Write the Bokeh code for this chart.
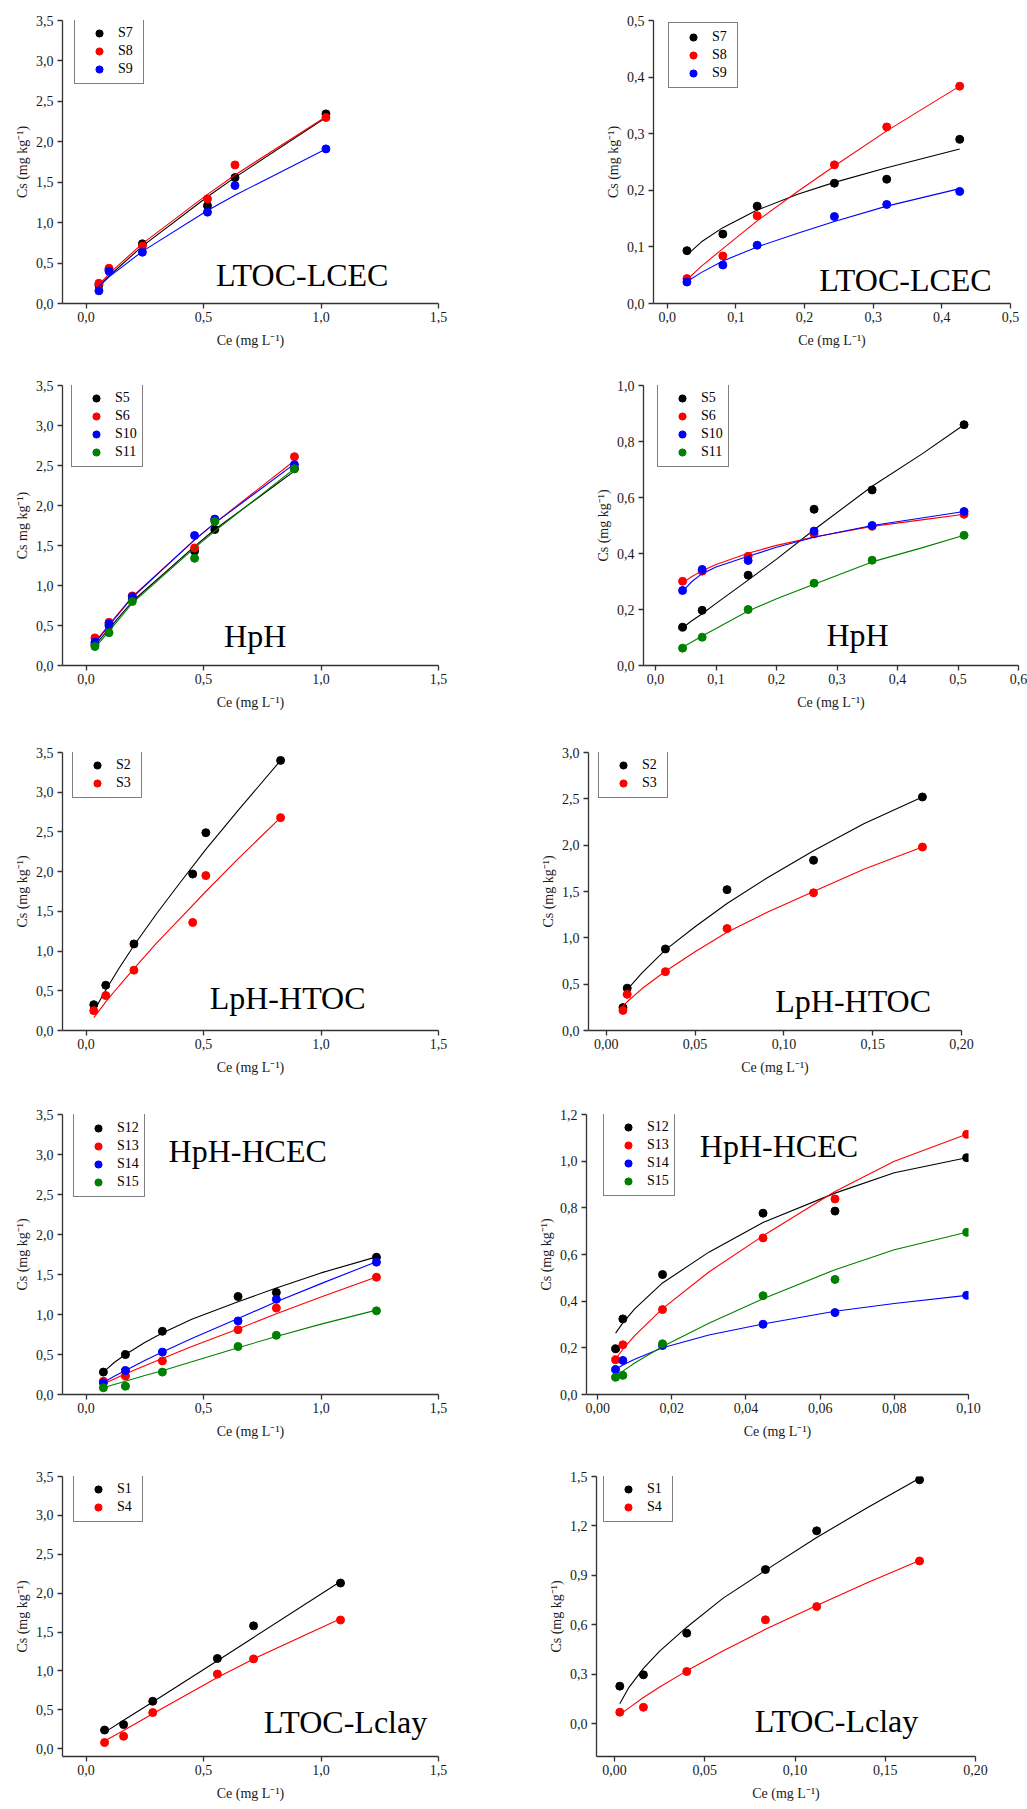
from bokeh.plotting import figure
from bokeh.layouts import column, row
from bokeh.models import Range1d, FixedTicker, Legend, LegendItem, Label
from bokeh.embed import file_html
from bokeh.resources import INLINE

# ---------------- DATA ----------------
# Row 1 left : LTOC-LCEC (Ce 0-1.5)
ce_A = [0.055, 0.098, 0.240, 0.517, 0.634, 1.021]
s7_A = [0.23, 0.42, 0.738, 1.21, 1.557, 2.345]
s8_A = [0.25, 0.436, 0.71, 1.294, 1.714, 2.30]
s9_A = [0.157, 0.40, 0.634, 1.13, 1.459, 1.912]
fit7_A = [0.22, 0.34, 0.71, 1.32, 1.56, 2.30]
fit8_A = [0.23, 0.37, 0.74, 1.35, 1.59, 2.31]
fit9_A = [0.21, 0.33, 0.645, 1.15, 1.34, 1.91]

# Row 1 right : LTOC-LCEC (Ce 0-0.5)
ce_B = [0.0287, 0.081, 0.131, 0.2435, 0.3197, 0.426]
s7_B = [0.0934, 0.1226, 0.172, 0.2125, 0.2196, 0.29]
s8_B = [0.044, 0.084, 0.155, 0.245, 0.312, 0.384]
s9_B = [0.038, 0.068, 0.103, 0.1536, 0.175, 0.198]
fitx_B = [0.0287, 0.05, 0.081, 0.131, 0.19, 0.2435, 0.3197, 0.426]
fit7_B = [0.086, 0.109, 0.134, 0.165, 0.193, 0.214, 0.240, 0.273]
fit8_B = [0.042, 0.066, 0.097, 0.146, 0.198, 0.243, 0.305, 0.384]
fit9_B = [0.039, 0.055, 0.075, 0.100, 0.124, 0.145, 0.172, 0.203]

# Row 2 left : HpH (Ce 0-1.5)
ce_C = [0.038, 0.098, 0.197, 0.462, 0.548, 0.887]
s5_C = [0.26, 0.50, 0.83, 1.43, 1.70, 2.46]
s6_C = [0.345, 0.54, 0.87, 1.47, 1.82, 2.61]
s10_C = [0.29, 0.52, 0.86, 1.625, 1.83, 2.51]
s11_C = [0.2375, 0.41, 0.80, 1.34, 1.80, 2.46]
fit5_C = [0.25, 0.46, 0.80, 1.49, 1.70, 2.43]
fit6_C = [0.29, 0.51, 0.86, 1.57, 1.78, 2.56]
fit10_C = [0.28, 0.50, 0.85, 1.57, 1.78, 2.52]
fit11_C = [0.22, 0.43, 0.78, 1.47, 1.68, 2.46]

# Row 2 right : HpH (Ce 0-0.6)
ce_D = [0.0446, 0.077, 0.153, 0.262, 0.358, 0.51]
s5_D = [0.137, 0.197, 0.3226, 0.558, 0.627, 0.86]
s6_D = [0.301, 0.337, 0.39, 0.47, 0.497, 0.54]
s10_D = [0.268, 0.343, 0.375, 0.48, 0.50, 0.55]
s11_D = [0.062, 0.101, 0.20, 0.294, 0.376, 0.465]
fitx_D = [0.0446, 0.06, 0.077, 0.10, 0.153, 0.20, 0.262, 0.358, 0.44, 0.51]
fit5_D = [0.135, 0.16, 0.185, 0.222, 0.305, 0.38, 0.485, 0.64, 0.755, 0.86]
fit6_D = [0.295, 0.318, 0.338, 0.361, 0.401, 0.429, 0.459, 0.497, 0.52, 0.54]
fit10_D = [0.265, 0.30, 0.328, 0.352, 0.39, 0.422, 0.458, 0.50, 0.527, 0.55]
fit11_D = [0.065, 0.084, 0.105, 0.132, 0.195, 0.238, 0.29, 0.37, 0.42, 0.465]

# Row 3 left : LpH-HTOC (Ce 0-1.5)
ce_E = [0.033, 0.084, 0.204, 0.454, 0.51, 0.828]
s2_E = [0.325, 0.57, 1.09, 1.97, 2.49, 3.40]
s3_E = [0.25, 0.44, 0.76, 1.36, 1.95, 2.68]
fitx_E = [0.033, 0.084, 0.14, 0.204, 0.30, 0.40, 0.51, 0.65, 0.828]
fit2_E = [0.24, 0.51, 0.78, 1.07, 1.47, 1.86, 2.28, 2.78, 3.40]
fit3_E = [0.16, 0.36, 0.56, 0.78, 1.10, 1.41, 1.75, 2.17, 2.68]

# Row 3 right : LpH-HTOC (Ce 0-0.2)
ce_F = [0.0094, 0.0118, 0.0333, 0.068, 0.1167, 0.178]
s2_F = [0.247, 0.457, 0.88, 1.52, 1.837, 2.52]
s3_F = [0.217, 0.39, 0.635, 1.10, 1.486, 1.98]
fitx_F = [0.0094, 0.0118, 0.02, 0.0333, 0.05, 0.068, 0.09, 0.1167, 0.145, 0.178]
fit2_F = [0.38, 0.44, 0.62, 0.87, 1.12, 1.37, 1.64, 1.94, 2.23, 2.52]
fit3_F = [0.265, 0.31, 0.45, 0.64, 0.85, 1.06, 1.27, 1.50, 1.74, 1.98]

# Row 4 left : HpH-HCEC (Ce 0-1.5)
ce_G = [0.074, 0.168, 0.325, 0.647, 0.81, 1.236]
s12_G = [0.28, 0.50, 0.79, 1.225, 1.275, 1.716]
s13_G = [0.166, 0.23, 0.42, 0.81, 1.08, 1.466]
s14_G = [0.146, 0.30, 0.53, 0.92, 1.19, 1.654]
s15_G = [0.084, 0.104, 0.28, 0.60, 0.74, 1.046]
fitx_G = [0.074, 0.12, 0.168, 0.25, 0.325, 0.45, 0.647, 0.81, 1.0, 1.236]
fit12_G = [0.28, 0.40, 0.50, 0.65, 0.77, 0.94, 1.16, 1.33, 1.52, 1.72]
fit13_G = [0.13, 0.195, 0.258, 0.36, 0.45, 0.60, 0.82, 1.01, 1.22, 1.47]
fit14_G = [0.15, 0.227, 0.30, 0.424, 0.531, 0.70, 0.95, 1.158, 1.386, 1.66]
fit15_G = [0.085, 0.125, 0.165, 0.237, 0.298, 0.41, 0.585, 0.725, 0.88, 1.055]

# Row 4 right : HpH-HCEC (Ce 0-0.1)
ce_H = [0.00485, 0.0068, 0.0175, 0.0446, 0.064, 0.0995]
s12_H = [0.196, 0.324, 0.514, 0.777, 0.786, 1.015]
s13_H = [0.149, 0.213, 0.364, 0.671, 0.838, 1.115]
s14_H = [0.107, 0.146, 0.21, 0.301, 0.351, 0.425]
s15_H = [0.074, 0.082, 0.2175, 0.4235, 0.493, 0.695]
fitx_H = [0.00485, 0.0068, 0.01, 0.0175, 0.03, 0.0446, 0.064, 0.08, 0.0995]
fit12_H = [0.263, 0.307, 0.367, 0.478, 0.61, 0.737, 0.863, 0.95, 1.015]
fit13_H = [0.152, 0.194, 0.252, 0.368, 0.525, 0.68, 0.87, 1.0, 1.115]
fit14_H = [0.108, 0.126, 0.151, 0.20, 0.255, 0.302, 0.357, 0.39, 0.425]
fit15_H = [0.08, 0.10, 0.135, 0.206, 0.305, 0.41, 0.535, 0.62, 0.695]

# Row 5 left : LTOC-Lclay (Ce 0-1.5)
ce_I = [0.079, 0.16, 0.284, 0.559, 0.713, 1.083]
s1_I = [0.24, 0.31, 0.61, 1.16, 1.58, 2.13]
s4_I = [0.08, 0.16, 0.465, 0.96, 1.155, 1.655]
fit1_I = [0.21, 0.365, 0.60, 1.13, 1.43, 2.15]
fit4_I = [0.10, 0.235, 0.45, 0.915, 1.155, 1.67]

# Row 5 right : LTOC-Lclay (Ce 0-0.2)
ce_J = [0.0029, 0.016, 0.040, 0.0836, 0.112, 0.169]
s1_J = [0.227, 0.296, 0.549, 0.935, 1.17, 1.48]
s4_J = [0.069, 0.099, 0.316, 0.63, 0.71, 0.987]
fitx_J = [0.0029, 0.008, 0.016, 0.025, 0.040, 0.06, 0.0836, 0.112, 0.14, 0.169]
fit1_J = [0.12, 0.22, 0.335, 0.44, 0.585, 0.76, 0.93, 1.13, 1.31, 1.49]
fit4_J = [0.055, 0.095, 0.158, 0.222, 0.32, 0.44, 0.572, 0.717, 0.855, 0.99]

# tick values and labels
ticks_x_wide = [0.0, 0.5, 1.0, 1.5]
labels_x_wide = ["0,0", "0,5", "1,0", "1,5"]
ticks_y_wide = [0.0, 0.5, 1.0, 1.5, 2.0, 2.5, 3.0, 3.5]
labels_y_wide = ["0,0", "0,5", "1,0", "1,5", "2,0", "2,5", "3,0", "3,5"]
ticks_B = [0.0, 0.1, 0.2, 0.3, 0.4, 0.5]
labels_B = ["0,0", "0,1", "0,2", "0,3", "0,4", "0,5"]
ticks_x_D = [0.0, 0.1, 0.2, 0.3, 0.4, 0.5, 0.6]
labels_x_D = ["0,0", "0,1", "0,2", "0,3", "0,4", "0,5", "0,6"]
ticks_y_D = [0.0, 0.2, 0.4, 0.6, 0.8, 1.0]
labels_y_D = ["0,0", "0,2", "0,4", "0,6", "0,8", "1,0"]
ticks_x_F = [0.0, 0.05, 0.10, 0.15, 0.20]
labels_x_F = ["0,00", "0,05", "0,10", "0,15", "0,20"]
ticks_y_F = [0.0, 0.5, 1.0, 1.5, 2.0, 2.5, 3.0]
labels_y_F = ["0,0", "0,5", "1,0", "1,5", "2,0", "2,5", "3,0"]
ticks_x_H = [0.0, 0.02, 0.04, 0.06, 0.08, 0.10]
labels_x_H = ["0,00", "0,02", "0,04", "0,06", "0,08", "0,10"]
ticks_y_H = [0.0, 0.2, 0.4, 0.6, 0.8, 1.0, 1.2]
labels_y_H = ["0,0", "0,2", "0,4", "0,6", "0,8", "1,0", "1,2"]
ticks_y_J = [0.0, 0.3, 0.6, 0.9, 1.2, 1.5]
labels_y_J = ["0,0", "0,3", "0,6", "0,9", "1,2", "1,5"]

BLACK, RED, BLUE, GREEN = "#000000", "#ff0000", "#0000ff", "#008000"
FONT = "Liberation Serif"
XLAB = "Ce (mg L\u207b\u00b9)"
YLAB = "Cs (mg kg\u207b\u00b9)"


def make_panel(width, height, mbl, mbr, mbt, mbb, xr, yr, xt, xl, yt, yl,
               ylabel, series, title, tx, ty, leg_dx, leg_dy):
    fh = height - mbt - mbb
    p = figure(width=width, height=height,
               x_range=Range1d(*xr), y_range=Range1d(*yr),
               output_backend="svg", toolbar_location=None,
               min_border_left=mbl, min_border_right=mbr,
               min_border_top=mbt, min_border_bottom=mbb)
    p.outline_line_color = None
    p.grid.visible = False
    p.background_fill_color = "white"
    p.border_fill_color = "white"
    for ax, ticks, labels in ((p.xaxis[0], xt, xl), (p.yaxis[0], yt, yl)):
        ax.ticker = FixedTicker(ticks=ticks)
        ax.major_label_overrides = dict(zip(ticks, labels))
        ax.minor_tick_line_color = None
        ax.major_tick_out = 5
        ax.major_tick_in = 0
        ax.axis_line_color = "#333333"
        ax.axis_line_width = 1.3
        ax.major_tick_line_color = "#333333"
        ax.major_tick_line_width = 1.3
        ax.major_label_text_font = FONT
        ax.major_label_text_font_size = "14px"
        ax.major_label_text_color = "#1a1a1a"
        ax.axis_label_text_font = FONT
        ax.axis_label_text_font_size = "14px"
        ax.axis_label_text_font_style = "normal"
        ax.axis_label_text_color = "#1a1a1a"
    p.xaxis[0].major_label_standoff = 3
    p.xaxis[0].axis_label_standoff = 8
    p.xaxis[0].axis_label = XLAB
    p.yaxis[0].major_label_standoff = 4
    p.yaxis[0].axis_label_standoff = 3
    p.yaxis[0].axis_label = ylabel

    items = []
    for name, color, ce, cs, fx, fy in series:
        p.line(fx, fy, line_color=color, line_width=1.1)
        r = p.scatter(ce, cs, marker="circle", size=8,
                      fill_color=color, line_color=color)
        items.append(LegendItem(label=name, renderers=[r]))
    n = len(items)
    lh = 10 + 18 * n
    leg = Legend(items=items, location=(leg_dx, fh - leg_dy - lh),
                 orientation="vertical", border_line_color="#000000",
                 border_line_width=1, background_fill_color="white",
                 background_fill_alpha=1.0, padding=5, spacing=0, margin=0,
                 glyph_width=38, glyph_height=18, label_height=18,
                 label_standoff=0, label_text_font=FONT,
                 label_text_font_size="14px", label_text_color="#000000")
    p.add_layout(leg)
    p.add_layout(Label(x=tx, y=ty, text=title, text_font=FONT,
                       text_font_size="32px", text_align="center",
                       text_baseline="alphabetic", text_color="#000000"))
    return p


LW = 488           # left figure width
RW = 539           # right figure width
row_h = [373, 367, 362, 362, 345]
row_t = [20, 12, 12, 12, 12]
row_b = [70, 75, 72, 70, 53]
LBL, LBR = 62, 50

pA = make_panel(LW, row_h[0], LBL, LBR, row_t[0], row_b[0], (-0.1, 1.5), (0.0, 3.5),
                ticks_x_wide, labels_x_wide, ticks_y_wide, labels_y_wide, YLAB,
                [("S7", BLACK, ce_A, s7_A, ce_A, fit7_A),
                 ("S8", RED, ce_A, s8_A, ce_A, fit8_A),
                 ("S9", BLUE, ce_A, s9_A, ce_A, fit9_A)],
                "LTOC-LCEC", 0.92, 0.35, 12, 0)
pB = make_panel(RW, row_h[0], 165, 17, row_t[0], row_b[0], (-0.02, 0.5), (0.0, 0.5),
                ticks_B, labels_B, ticks_B, labels_B, YLAB,
                [("S7", BLACK, ce_B, s7_B, fitx_B, fit7_B),
                 ("S8", RED, ce_B, s8_B, fitx_B, fit8_B),
                 ("S9", BLUE, ce_B, s9_B, fitx_B, fit9_B)],
                "LTOC-LCEC", 0.347, 0.041, 15, 4)
pC = make_panel(LW, row_h[1], LBL, LBR, row_t[1], row_b[1], (-0.1, 1.5), (0.0, 3.5),
                ticks_x_wide, labels_x_wide, ticks_y_wide, labels_y_wide,
                "Cs mg kg\u207b\u00b9)",
                [("S5", BLACK, ce_C, s5_C, ce_C, fit5_C),
                 ("S6", RED, ce_C, s6_C, ce_C, fit6_C),
                 ("S10", BLUE, ce_C, s10_C, ce_C, fit10_C),
                 ("S11", GREEN, ce_C, s11_C, ce_C, fit11_C)],
                "HpH", 0.72, 0.375, 9, 0)
pD = make_panel(RW, row_h[1], 155, 9, row_t[1], row_b[1], (-0.02, 0.6), (0.0, 1.0),
                ticks_x_D, labels_x_D, ticks_y_D, labels_y_D, YLAB,
                [("S5", BLACK, ce_D, s5_D, fitx_D, fit5_D),
                 ("S6", RED, ce_D, s6_D, fitx_D, fit6_D),
                 ("S10", BLUE, ce_D, s10_D, fitx_D, fit10_D),
                 ("S11", GREEN, ce_D, s11_D, fitx_D, fit11_D)],
                "HpH", 0.334, 0.108, 14, 0)
pE = make_panel(LW, row_h[2], LBL, LBR, row_t[2], row_b[2], (-0.1, 1.5), (0.0, 3.5),
                ticks_x_wide, labels_x_wide, ticks_y_wide, labels_y_wide, YLAB,
                [("S2", BLACK, ce_E, s2_E, fitx_E, fit2_E),
                 ("S3", RED, ce_E, s3_E, fitx_E, fit3_E)],
                "LpH-HTOC", 0.858, 0.404, 10, 0)
pF = make_panel(RW, row_h[2], 100, 66, row_t[2], row_b[2], (-0.01, 0.2), (0.0, 3.0),
                ticks_x_F, labels_x_F, ticks_y_F, labels_y_F, YLAB,
                [("S2", BLACK, ce_F, s2_F, fitx_F, fit2_F),
                 ("S3", RED, ce_F, s3_F, fitx_F, fit3_F)],
                "LpH-HTOC", 0.139, 0.316, 10, 0)
pG = make_panel(LW, row_h[3], LBL, LBR, row_t[3], row_b[3], (-0.1, 1.5), (0.0, 3.5),
                ticks_x_wide, labels_x_wide, ticks_y_wide, labels_y_wide, YLAB,
                [("S12", BLACK, ce_G, s12_G, fitx_G, fit12_G),
                 ("S13", RED, ce_G, s13_G, fitx_G, fit13_G),
                 ("S14", BLUE, ce_G, s14_G, fitx_G, fit14_G),
                 ("S15", GREEN, ce_G, s15_G, fitx_G, fit15_G)],
                "HpH-HCEC", 0.688, 3.04, 11, 1)
pH = make_panel(RW, row_h[3], 98, 59, row_t[3], row_b[3], (-0.003, 0.1), (0.0, 1.2),
                ticks_x_H, labels_x_H, ticks_y_H, labels_y_H, YLAB,
                [("S12", BLACK, ce_H, s12_H, fitx_H, fit12_H),
                 ("S13", RED, ce_H, s13_H, fitx_H, fit13_H),
                 ("S14", BLUE, ce_H, s14_H, fitx_H, fit14_H),
                 ("S15", GREEN, ce_H, s15_H, fitx_H, fit15_H)],
                "HpH-HCEC", 0.0489, 1.065, 17, 0)
pI = make_panel(LW, row_h[4], LBL, LBR, row_t[4], row_b[4], (-0.1, 1.5), (-0.1, 3.5),
                ticks_x_wide, labels_x_wide, ticks_y_wide, labels_y_wide, YLAB,
                [("S1", BLACK, ce_I, s1_I, ce_I, fit1_I),
                 ("S4", RED, ce_I, s4_I, ce_I, fit4_I)],
                "LTOC-Lclay", 1.104, 0.35, 11, 0)
pJ = make_panel(RW, row_h[4], 108, 52, row_t[4], row_b[4], (-0.01, 0.2), (-0.2, 1.5),
                ticks_x_F, labels_x_F, ticks_y_J, labels_y_J, YLAB,
                [("S1", BLACK, ce_J, s1_J, fitx_J, fit1_J),
                 ("S4", RED, ce_J, s4_J, fitx_J, fit4_J)],
                "LTOC-Lclay", 0.123, 0.018, 7, 0)

layout = column(row(pA, pB), row(pC, pD), row(pE, pF), row(pG, pH), row(pI, pJ))

open("out.html", "w").write(file_html(layout, INLINE))
